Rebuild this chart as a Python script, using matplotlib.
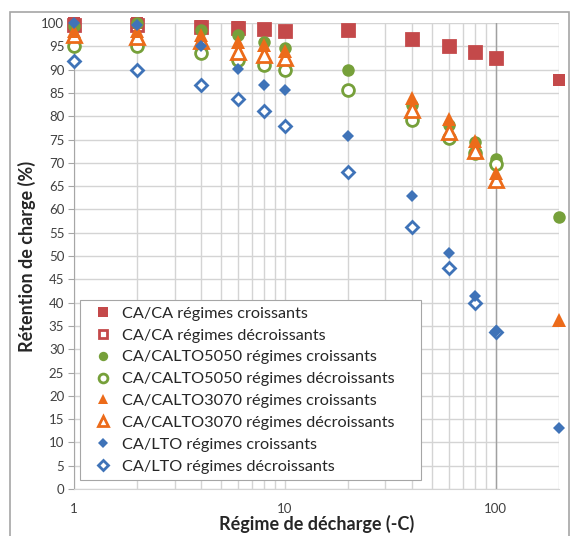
import matplotlib.pyplot as plt
from matplotlib.patches import Rectangle
from matplotlib.ticker import FixedLocator, NullFormatter

plt.rcParams['font.family'] = ['Lato', 'DejaVu Sans']

# régimes de décharge (C)
x_all = [1, 2, 4, 6, 8, 10, 20, 40, 60, 80, 100, 200]
x_dec = [1, 2, 4, 6, 8, 10, 20, 40, 60, 80, 100]
x_3070 = [1, 2, 4, 6, 8, 10, 40, 60, 80, 100, 200]
x_3070_dec = [1, 2, 4, 6, 8, 10, 40, 60, 80, 100]

ca_cr = [100, 100, 99.3, 99.1, 98.7, 98.4, 98.6, 96.3, 95.0, 93.7, 92.6, 87.7]
ca_dec = [99.5, 99.5, 99.2, 99.0, 98.7, 98.3, 98.5, 96.5, 95.0, 93.8, 92.5]
c5050_cr = [99.3, 100, 98.5, 97.4, 96.0, 94.6, 89.9, 82.5, 78.2, 74.4, 70.9, 58.3]
c5050_dec = [95.0, 95.0, 93.6, 92.0, 91.0, 89.9, 85.7, 79.1, 75.4, 72.1, 69.7]
c3070_cr = [98.3, 98.4, 97.4, 96.0, 95.3, 93.9, 84.0, 79.3, 74.6, 67.9, 36.3]
c3070_dec = [97.4, 97.0, 96.2, 93.8, 93.2, 92.4, 81.3, 76.7, 72.5, 66.4]
lto_cr = [100, 99.5, 95.0, 90.2, 86.6, 85.6, 75.8, 62.8, 50.6, 41.5, 33.9, 13.1]
lto_dec = [91.9, 89.9, 86.6, 83.8, 81.1, 78.0, 68.0, 56.3, 47.4, 40.0, 33.8]

red = '#C4494A'
green = '#76A03A'
orange = '#EC6B1A'
blue = '#3F73B8'

fig = plt.figure(figsize=(5.71, 5.36), dpi=100)
ax = fig.add_axes([0.1296, 0.0877, 0.979 - 0.1296, 0.957 - 0.0877])

# cadre extérieur
fig.patches.append(Rectangle((10 / 571, -0.01), 559 / 571, 1.01 - 12 / 536,
                             transform=fig.transFigure, fill=False,
                             edgecolor='#A6A6A6', linewidth=1.2))

series = [
    (x_all, ca_cr, 's', red, True, 9, 'CA/CA régimes croissants'),
    (x_dec, ca_dec, 's', red, False, 8.5, 'CA/CA régimes décroissants'),
    (x_all, c5050_cr, 'o', green, True, 9, 'CA/CALTO5050 régimes croissants'),
    (x_dec, c5050_dec, 'o', green, False, 8.5, 'CA/CALTO5050 régimes décroissants'),
    (x_3070, c3070_cr, '^', orange, True, 10, 'CA/CALTO3070 régimes croissants'),
    (x_3070_dec, c3070_dec, '^', orange, False, 9.5, 'CA/CALTO3070 régimes décroissants'),
    (x_all, lto_cr, 'D', blue, True, 6.6, 'CA/LTO régimes croissants'),
    (x_dec, lto_dec, 'D', blue, False, 6.3, 'CA/LTO régimes décroissants'),
]

# ordre de dessin (du dessous vers le dessus)
order = [1, 0, 2, 3, 5, 4, 7, 6]
handles = {}
for k, i in enumerate(order):
    xs, ys, m, c, filled, ms, lab = series[i]
    h, = ax.plot(xs, ys, linestyle='none', marker=m, markersize=ms,
                 markerfacecolor=c if filled else 'white',
                 markeredgecolor=c, markeredgewidth=0 if filled else 2.0,
                 label=lab, clip_on=False, zorder=3 + k * 0.1)
    handles[i] = h

ax.set_xscale('log')
ax.set_xlim(1, 200)
ax.set_ylim(0, 100)
ax.set_yticks(range(0, 101, 5))
ax.xaxis.set_major_locator(FixedLocator([1, 10, 100]))
ax.xaxis.set_minor_locator(FixedLocator([2, 3, 4, 5, 6, 7, 8, 9, 20, 30, 40, 50,
                                         60, 70, 80, 90, 200]))
ax.xaxis.set_minor_formatter(NullFormatter())
ax.set_xticklabels(['1', '10', '100'])

ax.grid(True, which='both', color='#D4D4D4', linewidth=1.0)
ax.axvline(100, color='#A0A0A0', linewidth=1.0, zorder=1)
ax.set_axisbelow(True)

for s in ['top', 'right']:
    ax.spines[s].set_visible(False)
ax.spines['left'].set_color('#A6A6A6')
ax.spines['bottom'].set_color('#D4D4D4')
ax.tick_params(axis='y', length=4, color='#A6A6A6', labelsize=9.5,
               labelcolor='#404040', pad=3)
ax.tick_params(axis='x', which='both', length=0, labelsize=9.5,
               labelcolor='#404040', pad=10)

ax.set_ylabel('Rétention de charge (%)', fontsize=13, fontweight='bold',
              color='#262626', labelpad=4)
ax.set_xlabel('Régime de décharge (-C)', fontsize=13, fontweight='bold',
              color='#262626', labelpad=0)

leg = ax.legend([handles[i] for i in range(8)],
                [series[i][6] for i in range(8)],
                loc='lower left', bbox_to_anchor=(0.012, 0.019, 0.703, 0.4),
                mode='expand',
                fontsize=11.7, frameon=True, fancybox=False,
                edgecolor='#A6A6A6', framealpha=1, borderpad=0.4,
                handlelength=2.0, handletextpad=0.2, labelspacing=0.46,
                markerscale=0.75, borderaxespad=0)
leg.get_frame().set_linewidth(0.8)
for t in leg.get_texts():
    t.set_color('#262626')

fig.savefig('out.png', dpi=100)
